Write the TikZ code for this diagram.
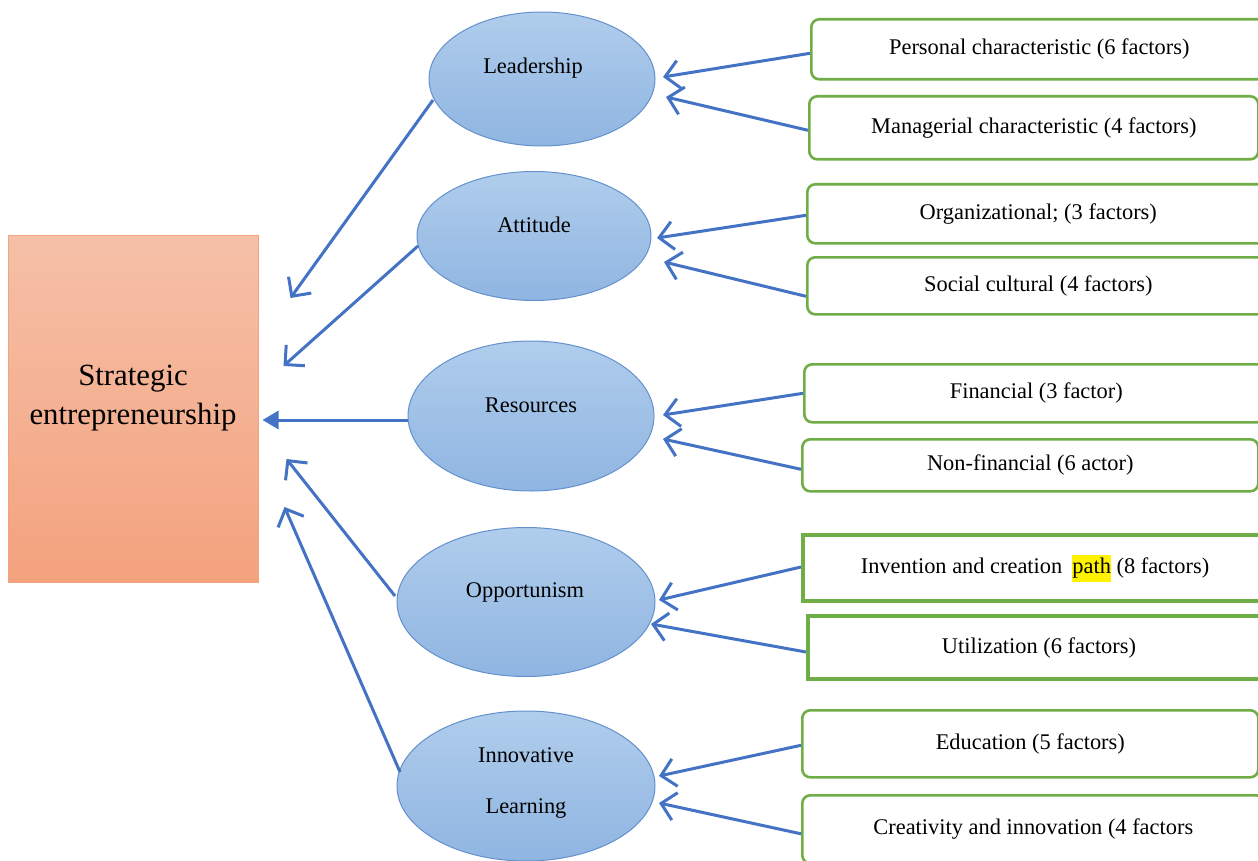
\documentclass[tikz,border=0pt]{standalone}
\usepackage{fontspec}
\setmainfont{Liberation Serif}
\usetikzlibrary{shapes.geometric,arrows.meta,calc}
\definecolor{arrblue}{RGB}{68,114,196}
\definecolor{elTop}{RGB}{176,205,236}
\definecolor{elBot}{RGB}{143,181,225}
\definecolor{elLine}{RGB}{100,145,205}
\definecolor{grn}{RGB}{112,173,71}
\definecolor{orTop}{RGB}{245,192,168}
\definecolor{orBot}{RGB}{244,162,126}
\definecolor{orLine}{RGB}{240,165,125}
\tikzset{
  elnode/.style={ellipse, draw=elLine, line width=1pt, top color=elTop, bottom color=elBot, inner sep=0pt},
  eltext/.style={font=\fontsize{22.4}{51}\selectfont, align=center, inner sep=0pt},
  factbox/.style={draw=grn, line width=2.6pt, rounded corners=8pt, fill=white, anchor=north west, inner sep=0pt, font=\fontsize{22.4}{27}\selectfont},
  factsharp/.style={factbox, rounded corners=0pt, line width=4pt},
  arr/.style={draw=arrblue, line width=3pt, -{Straight Barb[length=14pt,width=28pt,line width=3pt]}},
  arrfill/.style={draw=arrblue, line width=3pt, -{Triangle[length=16pt,width=18pt]}}
}
\begin{document}
\begin{tikzpicture}[x=1pt,y=-1pt]
\path[use as bounding box] (0,0) rectangle (1258,861);
\clip (0,0) rectangle (1258,861);
\fill[white] (0,0) rectangle (1258,861);
% left box
\node[draw=orLine, line width=1pt, top color=orTop, bottom color=orBot, minimum width=250pt, minimum height=347pt, inner sep=0pt] (s) at (133,408.5) {};
\node[font=\fontsize{30.8}{39}\selectfont, align=center, inner sep=0pt] (st) at (133,398) {Strategic\\entrepreneurship};
% ellipses
\node[elnode, minimum width=226pt, minimum height=134pt] (l1) at (542,79) {};
\node[eltext] (l1t) at (533,68) {Leadership};
\node[elnode, minimum width=234pt, minimum height=129pt] (l2) at (534,236) {};
\node[eltext] (l2t) at (534,225) {Attitude};
\node[elnode, minimum width=246pt, minimum height=150pt] (l3) at (531,416) {};
\node[eltext] (l3t) at (531,405) {Resources};
\node[elnode, minimum width=258pt, minimum height=149pt] (l4) at (526,602) {};
\node[eltext] (l4t) at (525,592) {Opportunism};
\node[elnode, minimum width=258pt, minimum height=150pt] (l5) at (526,786) {};
\node[eltext] (l5t) at (526,782.5) {Innovative\\Learning};
% factor boxes
\node[factbox, minimum width=456pt, minimum height=60pt] (b1) at (810,18) {Personal characteristic (6 factors)};
\node[factbox, minimum width=449pt, minimum height=63pt] (b2) at (808,95) {Managerial characteristic (4 factors)};
\node[factbox, minimum width=462pt, minimum height=59pt] (b3) at (806,183) {Organizational; (3 factors)};
\node[factbox, minimum width=462pt, minimum height=57pt] (b4) at (806,256) {Social cultural (4 factors)};
\node[factbox, minimum width=464pt, minimum height=58pt] (b5) at (803,363) {Financial (3 factor)};
\node[factbox, minimum width=456pt, minimum height=52pt] (b6) at (801,438) {Non-financial (6 actor)};
\node[factsharp, minimum width=464pt, minimum height=66pt] (b7) at (801,533) {\setlength{\fboxsep}{0pt}Invention and creation\hspace{0.45em}\colorbox{yellow}{\strut path} (8 factors)};
\node[factsharp, minimum width=462pt, minimum height=63pt] (b8) at (806,614) {Utilization (6 factors)};
\node[factbox, minimum width=456pt, minimum height=67pt] (b9) at (801,709) {Education (5 factors)};
\node[factbox, minimum width=462pt, minimum height=68pt] (b10) at (801,794) {Creativity and innovation (4 factors};
% arrows factors -> ellipses
\draw[arr] ([yshift=-4pt]b1.west) -- ($(l1.center)+(121,-2)$);
\draw[arr] ([yshift=-2.5pt]b2.west) -- ($(l1.center)+(124,18)$);
\draw[arr] ([yshift=-1.5pt]b3.west) -- ($(l2.center)+(123,2)$);
\draw[arr] ([yshift=-10.5pt]b4.west) -- ($(l2.center)+(130,26)$);
\draw[arr] (b5.west) -- ($(l3.center)+(132,-1)$);
\draw[arr] ([yshift=-4pt]b6.west) -- ($(l3.center)+(132,23)$);
\draw[arr] ([yshift=1pt]b7.west) -- ($(l4.center)+(133,-2)$);
\draw[arr] ([yshift=-4.5pt]b8.west) -- ($(l4.center)+(125,22)$);
\draw[arr] ([yshift=-1.5pt]b9.west) -- ($(l5.center)+(133,-10)$);
\draw[arr] ([yshift=-4.5pt]b10.west) -- ($(l5.center)+(133,17)$);
% arrows ellipses -> strategic
\draw[arr] ($(l1.center)+(-109,21)$) -- ($(s.east)+(32,-110.5)$);
\draw[arr] ($(l2.center)+(-116,10)$) -- ($(s.east)+(25,-42.5)$);
\draw[arrfill] ($(l3.center)+(-123,4)$) -- ($(s.east)+(4,11.5)$);
\draw[arr] ($(l4.center)+(-131,-6)$) -- ($(s.east)+(28,50.5)$);
\draw[arr] ($(l5.center)+(-126,-14)$) -- ($(s.east)+(26,98.5)$);
\end{tikzpicture}
\end{document}
